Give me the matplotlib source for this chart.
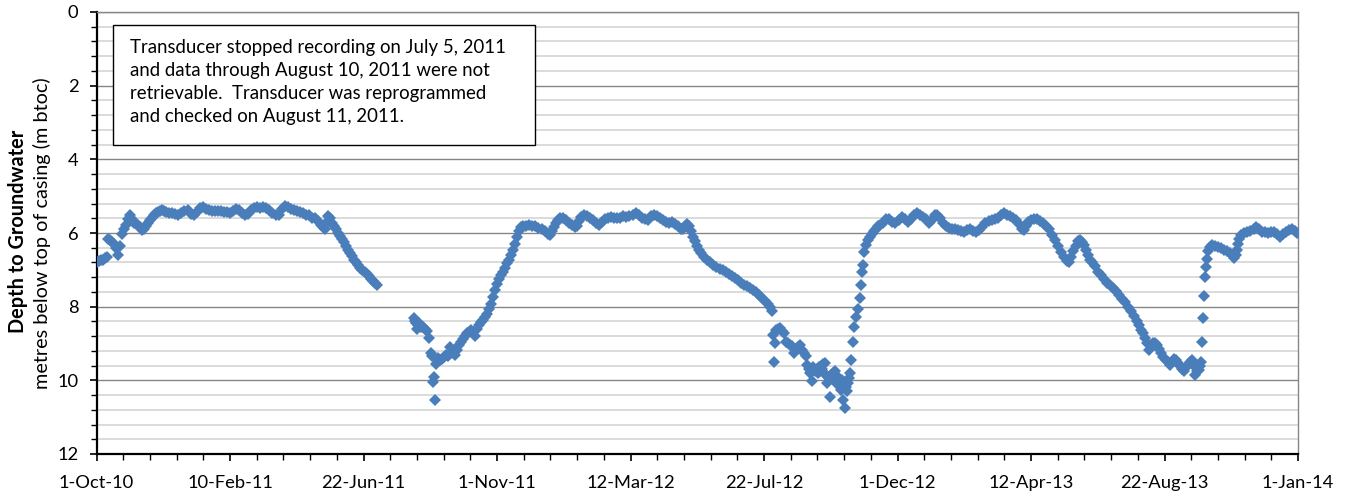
import matplotlib
matplotlib.use("Agg")
import matplotlib.pyplot as plt
import matplotlib.dates as mdates
from matplotlib.ticker import MultipleLocator, FixedLocator
from matplotlib.patches import Rectangle
import pandas as pd

plt.rcParams['font.family'] = ['Lato', 'DejaVu Sans']

START = "2010-10-01"

# ---- data: days since 1-Oct-10 and depth (m btoc) ----
p1_days = [0, 2, 4, 6, 8, 10, 11, 13, 15, 17, 19, 21, 23, 25, 27, 29, 31, 33, 35, 37, 39, 41, 43, 45, 47, 49,
           51, 53, 55, 57, 59, 61, 63, 65, 67, 69, 72, 75, 78, 81, 84, 87, 90, 93, 96, 99, 102, 105, 108, 111,
           114, 117, 120, 123, 126, 129, 132, 135, 138, 141, 144, 147, 150, 153, 156, 159, 162, 165, 168, 171,
           174, 177, 180, 183, 186, 189, 192, 195, 198, 201, 204, 207, 210, 213, 216, 219, 222, 224, 226, 228,
           229, 231, 233, 235, 237, 239, 241, 243, 245, 247, 249, 251, 253, 255, 257, 259, 261, 263, 265, 267,
           269, 271, 273, 275, 277]
p1_depth = [6.78, 6.76, 6.74, 6.72, 6.68, 6.65, 6.15, 6.2, 6.25, 6.3, 6.42, 6.6, 6.35, 6.02, 5.9, 5.78, 5.62,
            5.5, 5.62, 5.72, 5.75, 5.78, 5.85, 5.93, 5.9, 5.8, 5.72, 5.65, 5.58, 5.5, 5.45, 5.42, 5.4, 5.38,
            5.4, 5.42, 5.45, 5.45, 5.48, 5.5, 5.45, 5.4, 5.38, 5.48, 5.5, 5.42, 5.33, 5.3, 5.35, 5.38, 5.4,
            5.4, 5.4, 5.4, 5.42, 5.43, 5.45, 5.4, 5.35, 5.38, 5.45, 5.52, 5.48, 5.38, 5.33, 5.3, 5.32, 5.3,
            5.33, 5.38, 5.45, 5.52, 5.5, 5.35, 5.26, 5.3, 5.35, 5.38, 5.4, 5.42, 5.45, 5.5, 5.52, 5.58, 5.6,
            5.68, 5.79, 5.85, 5.9, 5.7, 5.55, 5.6, 5.72, 5.82, 5.9, 6.0, 6.08, 6.16, 6.25, 6.35, 6.45, 6.55,
            6.63, 6.72, 6.8, 6.87, 6.94, 7.0, 7.06, 7.12, 7.18, 7.24, 7.3, 7.36, 7.42]

p2_days = [314, 315, 316, 317, 318, 319, 320, 321, 323, 325, 327, 329, 331, 332, 333, 334, 335, 336, 337, 338,
           340, 342, 344, 346, 348, 350, 352, 354, 356, 358, 360, 362, 364, 366, 368, 370, 372, 374, 376, 378,
           380, 382, 384, 386, 388, 390, 392, 394, 396, 398, 400, 402, 404, 406, 408, 410, 412, 414, 416, 418,
           420, 422, 425, 428, 431, 434, 437, 440, 443, 446, 448, 450, 452, 454, 456, 458, 461, 464, 467, 470,
           473, 475, 477, 479, 482, 485, 488, 491, 494, 497, 500, 503, 506, 509, 512, 515, 518, 521, 524, 527,
           530, 533, 536, 539, 542, 545, 548, 551, 554, 557, 560, 563, 566, 569, 572, 575, 578, 580, 582, 584,
           586, 588, 590, 592, 594, 596, 598, 601, 604, 607, 610, 613, 616, 619, 622, 625, 628, 631, 634, 637,
           640, 643, 646, 649, 652, 655, 658, 661, 664, 666, 668]
p2_depth = [8.3, 8.38, 8.45, 8.6, 8.5, 8.45, 8.5, 8.55, 8.55, 8.6, 8.65, 8.85, 9.27, 9.35, 10.05, 9.9, 10.53,
            9.55, 9.45, 9.4, 9.45, 9.42, 9.38, 9.3, 9.35, 9.1, 9.25, 9.3, 9.17, 9.05, 8.95, 8.88, 8.8, 8.72,
            8.7, 8.63, 8.7, 8.8, 8.6, 8.5, 8.42, 8.36, 8.28, 8.2, 8.05, 7.92, 7.75, 7.55, 7.38, 7.25, 7.15,
            7.05, 6.95, 6.82, 6.72, 6.6, 6.45, 6.3, 6.12, 5.95, 5.85, 5.81, 5.8, 5.79, 5.8, 5.82, 5.86, 5.9,
            5.95, 6.02, 6.05, 5.95, 5.85, 5.73, 5.65, 5.58, 5.6, 5.65, 5.72, 5.78, 5.85, 5.8, 5.68, 5.57, 5.52,
            5.55, 5.6, 5.65, 5.72, 5.78, 5.7, 5.62, 5.58, 5.57, 5.6, 5.58, 5.58, 5.55, 5.57, 5.55, 5.5, 5.45,
            5.5, 5.58, 5.62, 5.65, 5.55, 5.5, 5.55, 5.6, 5.65, 5.7, 5.73, 5.7, 5.75, 5.82, 5.88, 5.9, 5.8,
            5.75, 5.82, 5.95, 6.1, 6.22, 6.35, 6.45, 6.55, 6.65, 6.72, 6.8, 6.88, 6.93, 6.97, 7.01, 7.05, 7.1,
            7.16, 7.22, 7.28, 7.35, 7.4, 7.44, 7.48, 7.54, 7.6, 7.68, 7.76, 7.84, 7.93, 8.02, 8.12]

p3_days = [669, 670, 671, 672, 674, 676, 678, 680, 682, 684, 686, 688, 690, 692, 694, 696, 698, 700, 702, 703,
           704, 705, 706, 707, 708, 709, 710, 712, 713, 714, 715, 716, 717, 718, 719, 720, 721, 722, 723, 724,
           725, 726, 727, 728, 729, 730, 731, 732, 733, 734, 735, 736, 737, 738, 739, 740, 741, 742, 743, 744,
           745, 746, 748, 749, 751, 753, 755, 756, 757, 758, 759, 761, 763, 765, 767, 769, 771, 773, 775, 778,
           781, 784, 787, 790, 793, 796, 799, 802, 805, 808, 811, 814, 817, 820, 823, 826, 829, 831, 834, 837,
           840, 843, 846, 849, 852, 855, 858, 861, 864, 867, 870, 873, 876, 879, 882, 885, 888, 891, 894, 897,
           900, 903, 906, 909, 912, 915, 917, 919, 921, 924, 927, 930, 933, 936, 939, 942, 945, 948, 951, 954,
           957, 960, 962, 964, 966, 968, 970, 972, 974, 976, 978, 980, 982, 984, 987, 990, 993, 996, 999, 1002,
           1005, 1008, 1011, 1014, 1017, 1020, 1023, 1026, 1029, 1031, 1033, 1035, 1037, 1039, 1041]
p3_depth = [8.77, 9.49, 9.0, 8.63, 8.6, 8.59, 8.65, 8.72, 8.95, 9.0, 9.05, 9.08, 9.27, 9.15, 9.1, 9.04, 9.17,
            9.25, 9.35, 9.58, 9.7, 9.8, 9.75, 10.03, 9.65, 9.72, 9.75, 9.7, 9.8, 9.65, 9.76, 9.6, 9.7, 9.55,
            9.8, 9.53, 9.85, 10.08, 9.9, 9.95, 10.44, 9.85, 9.9, 9.8, 10.0, 9.76, 9.9, 10.1, 10.03, 9.95,
            10.15, 10.26, 10.0, 10.53, 10.1, 10.75, 10.17, 10.3, 10.08, 9.95, 9.79, 9.45, 8.95, 8.54, 8.27,
            8.05, 7.77, 7.41, 7.05, 6.87, 6.51, 6.33, 6.2, 6.1, 6.03, 5.95, 5.88, 5.82, 5.78, 5.72, 5.63, 5.62,
            5.7, 5.72, 5.65, 5.57, 5.62, 5.7, 5.62, 5.52, 5.47, 5.52, 5.56, 5.62, 5.72, 5.65, 5.52, 5.5, 5.6,
            5.72, 5.8, 5.86, 5.88, 5.9, 5.92, 5.94, 5.97, 5.92, 5.88, 5.95, 5.97, 5.92, 5.85, 5.74, 5.68, 5.65,
            5.62, 5.58, 5.5, 5.47, 5.5, 5.54, 5.58, 5.66, 5.76, 5.88, 5.92, 5.8, 5.7, 5.64, 5.61, 5.62, 5.67,
            5.72, 5.8, 5.9, 6.05, 6.2, 6.36, 6.52, 6.66, 6.77, 6.8, 6.65, 6.5, 6.35, 6.22, 6.18, 6.24, 6.32,
            6.45, 6.6, 6.72, 6.8, 6.9, 7.05, 7.15, 7.25, 7.35, 7.42, 7.5, 7.58, 7.68, 7.78, 7.88, 8.0, 8.12,
            8.25, 8.4, 8.5, 8.62, 8.72, 8.85, 8.98, 9.17]

p4_days = [1043, 1045, 1047, 1049, 1051, 1053, 1055, 1057, 1059, 1061, 1063, 1065, 1067, 1069, 1071, 1073,
           1075, 1077, 1079, 1081, 1083, 1085, 1086, 1088, 1090, 1091, 1092, 1093, 1094, 1095, 1096, 1097,
           1098, 1099, 1101, 1103, 1106, 1109, 1112, 1115, 1118, 1121, 1123, 1125, 1127, 1128, 1129, 1130,
           1132, 1135, 1138, 1141, 1144, 1146, 1149, 1152, 1155, 1158, 1161, 1164, 1167, 1170, 1173, 1176,
           1179, 1182, 1185, 1187]
p4_depth = [9.05, 8.99, 9.0, 9.04, 9.15, 9.26, 9.38, 9.44, 9.5, 9.58, 9.5, 9.42, 9.45, 9.53, 9.6, 9.7, 9.76,
            9.65, 9.58, 9.5, 9.45, 9.6, 9.85, 9.75, 9.72, 9.6, 9.49, 8.95, 8.32, 7.72, 7.19, 6.92, 6.7, 6.5,
            6.38, 6.33, 6.35, 6.38, 6.42, 6.46, 6.5, 6.55, 6.6, 6.68, 6.6, 6.45, 6.3, 6.15, 6.05, 6.0, 5.98,
            5.95, 5.88, 5.83, 5.9, 5.97, 5.98, 6.0, 5.98, 5.97, 6.02, 6.1, 6.02, 5.97, 5.92, 5.88, 5.95, 6.0]

note_lines = ["Transducer stopped recording on July 5, 2011",
              "and data through August 10, 2011 were not",
              "retrievable.  Transducer was reprogrammed",
              "and checked on August 11, 2011."]

# ---- figure ----
W, H = 1348, 493
fig = plt.figure(figsize=(W / 100, H / 100), dpi=100)
ax = fig.add_axes([96.5 / W, 1 - 454 / H, (1298 - 96.5) / W, (454 - 12) / H])

start = pd.Timestamp(START)
color = '#4A7EBB'
for d, v in [(p1_days, p1_depth), (p2_days, p2_depth), (p3_days, p3_depth), (p4_days, p4_depth)]:
    dates = start + pd.to_timedelta(d, unit='D')
    ax.plot(dates, v, linestyle='none', marker='D', markersize=5.8,
            markeredgewidth=0, color=color, zorder=3)

x0 = mdates.date2num(start)
x1 = mdates.date2num(pd.Timestamp("2014-01-01"))
ax.set_xlim(x0, x1)
major = [start + pd.Timedelta(days=132 * k) for k in range(10)]
ax.xaxis.set_major_locator(FixedLocator([mdates.date2num(m) for m in major]))
ax.set_xticklabels([f"{m.day}-{m.strftime('%b-%y')}" for m in major])
ax.xaxis.set_minor_locator(FixedLocator([x0 + 26.4 * k for k in range(46)]))

ax.set_ylim(12, 0)
ax.yaxis.set_major_locator(MultipleLocator(2))
ax.yaxis.set_minor_locator(MultipleLocator(0.4))
ax.grid(axis='y', which='major', color='#868686', linewidth=1.0, zorder=0)
ax.grid(axis='y', which='minor', color='#d4d4d4', linewidth=1.2, zorder=0)
ax.set_axisbelow(True)

for s in ['left', 'bottom']:
    ax.spines[s].set_color('black')
    ax.spines[s].set_linewidth(1.6)
for s in ['right', 'top']:
    ax.spines[s].set_color('#868686')
    ax.spines[s].set_linewidth(1.0)

ax.tick_params(axis='both', which='major', direction='out', length=5, width=1.2,
               labelsize=13.2, colors='black')
ax.tick_params(axis='both', which='minor', direction='out', length=4, width=1.0, colors='black')
ax.tick_params(axis='x', which='major', pad=10)
ax.tick_params(axis='y', which='major', pad=8)

fig.text(18 / W, 1 - 231 / H, "Depth to Groundwater", rotation=90, ha='center', va='center',
         fontsize=14.3, fontweight='bold')
fig.text(42 / W, 1 - 233 / H, "metres below top of casing (m btoc)", rotation=90, ha='center',
         va='center', fontsize=14.3)

fig.patches.append(Rectangle((113 / W, 1 - 145 / H), (535 - 113) / W, 120 / H,
                             transform=fig.transFigure, facecolor='white', edgecolor='black',
                             linewidth=1.0, zorder=5))
for i, line in enumerate(note_lines):
    fig.text(130 / W, 1 - (47 + 23.3 * i) / H, line, ha='left', va='center', fontsize=13.4, zorder=6)

fig.savefig("out.png", dpi=100)
